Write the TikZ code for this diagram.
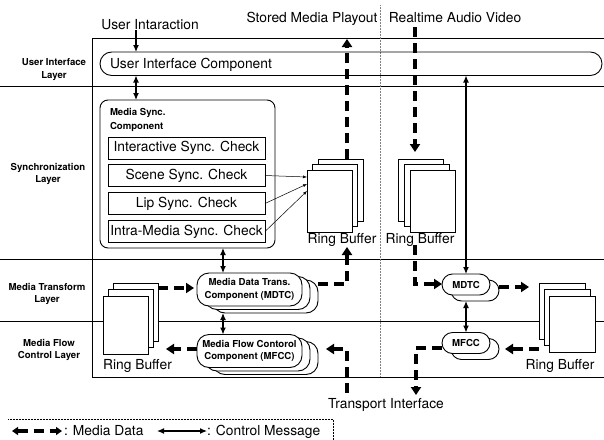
\documentclass[tikz,border=0pt]{standalone}
\usepackage{fontspec}
\setmainfont{TeX Gyre Heros}
\usetikzlibrary{arrows.meta}
\begin{document}
\begin{tikzpicture}[x=1pt,y=-1pt,
  every node/.style={inner sep=0pt, outer sep=0pt},
  big/.style={font=\fontsize{13.8}{15}\selectfont},
  lbl/.style={font=\fontsize{9.6}{12.6}\selectfont\bfseries, align=center},
  frm/.style={line width=0.9pt},
  chk/.style={draw, line width=0.9pt, minimum width=157pt, minimum height=22pt, big},
  page/.style={draw, fill=white, line width=0.7pt, anchor=north west},
  compL/.style={draw, fill=white, line width=0.9pt, rounded corners=12pt, minimum width=105pt, minimum height=33pt, lbl},
  compR/.style={draw, fill=white, line width=0.9pt, rounded corners=10.5pt, minimum width=48pt, minimum height=21pt, lbl},
  ctrl/.style={line width=1.2pt, {Latex[length=7pt,width=6pt]}-{Latex[length=7pt,width=6pt]}},
  ctrlone/.style={line width=1.2pt, -{Latex[length=7pt,width=6pt]}},
  thin/.style={line width=0.5pt, -{Latex[length=4pt,width=3pt]}},
  md/.style={line width=4pt, dash pattern=on 10pt off 6pt, line join=miter, -{Triangle[length=8pt,width=10pt]}},
  mdd/.style={line width=4pt, dash pattern=on 10pt off 6pt, {Triangle[length=6pt,width=8pt]}-{Triangle[length=6pt,width=8pt]}}
]
\useasboundingbox (0,0) rectangle (604,439);

% frame and layers
\draw[frm] (610,38) -- (92,38) -- (92,377) -- (610,377);
\draw[frm] (0,86) -- (604,86);
\draw[frm] (0,259) -- (604,259);
\draw[frm] (0,321) -- (604,321);
\draw[densely dotted, line width=0.5pt, gray] (380,5) -- (380,377);

% layer labels
\node[lbl] (l1) at (54,69.7) {User Interface\\Layer};
\node[lbl] (l2) at (48,173.8) {Synchronization\\Layer};
\node[lbl] (l3) at (47,294) {Media Transform\\Layer};
\node[lbl] (l4) at (49,349.8) {Media Flow\\Control Layer};

% top texts
\node[big, anchor=base] (uitxt) at (150,29) {User Intaraction};
\node[big, anchor=base] (stxt) at (312,22.5) {Stored Media Playout};
\node[big, anchor=base] (rtxt) at (455,22.5) {Realtime Audio Video};
\node[big, anchor=base] (ttxt) at (386,408) {Transport Interface};

% UI component
\node[draw, line width=0.9pt, rounded corners=11.7pt, minimum width=502pt, minimum height=23.5pt] (ui) at (351,63.75) {};
\node[big, anchor=base west] (uilabel) at (110,68.3) {User Interface Component};

% media sync component
\node[draw, line width=0.9pt, rounded corners=8pt, minimum width=175pt, minimum height=148pt] (ms) at (187.5,174) {};
\node[font=\fontsize{9.6}{13.3}\selectfont\bfseries, align=left, anchor=north west] (mstitle) at (110,108.7) {Media Sync.\\Component};
\node[chk] (c1) at (186.5,148) {Interactive Sync. Check};
\node[chk] (c2) at (186.5,175.5) {Scene Sync. Check};
\node[chk] (c3) at (186.5,203.5) {Lip Sync. Check};
\node[chk] (c4) at (186.5,231.5) {Intra-Media Sync. Check};

% ring buffers
\foreach \n/\x/\y in {b/318/159, m/312.5/164.5, f/307/170}
  \node[page, minimum width=45pt, minimum height=62pt] (r1\n) at (\x,\y) {};
\foreach \n/\x/\y in {b/398/159, m/404/164.5, f/410/170}
  \node[page, minimum width=45pt, minimum height=62pt] (r2\n) at (\x,\y) {};
\foreach \n/\x/\y in {b/539/283, m/544/289.5, f/549/296}
  \node[page, minimum width=46pt, minimum height=56pt] (rr\n) at (\x,\y) {};
\foreach \n/\x/\y in {b/113/283, m/108/289.5, f/103/296}
  \node[page, minimum width=45pt, minimum height=58pt] (rl\n) at (\x,\y) {};
\node[big, anchor=base] (r1t) at (342,243) {Ring Buffer};
\node[big, anchor=base] (r2t) at (420,243) {Ring Buffer};
\node[big, anchor=base] (rrt) at (560,369) {Ring Buffer};
\node[big, anchor=base] (rlt) at (137.5,369) {Ring Buffer};

% left MDTC / MFCC
\node[compL] (mdtcL3) at (265.5,296.5) {};
\node[compL] (mdtcL2) at (257.5,293) {};
\node[compL] (mdtcL) at (249.5,289.5) {Media Data Trans.\\Component (MDTC)};
\node[compL] (mfccL3) at (265.5,358) {};
\node[compL] (mfccL2) at (257.5,354.5) {};
\node[compL] (mfccL) at (249.5,351) {Media Flow Contorol\\Component (MFCC)};

% right MDTC / MFCC
\node[compR] (mdtcR2) at (475,290.5) {};
\node[compR] (mdtcR) at (466,284.5) {MDTC};
\node[compR] (mfccR2) at (475,349) {};
\node[compR] (mfccR) at (466,343) {MFCC};

% sync check -> ring buffer
\draw[thin] (c2.east) -- ([yshift=-7pt]r1f.north west);
\draw[thin] (c3.east) -- ([yshift=-14pt]r1f.north west);
\draw[thin] (c4.east) -- ([yshift=-21pt]r1f.north west);

% control messages
\coordinate (xa) at (136,0);
\coordinate (xb) at (223,0);
\draw[ctrlone] (136,30) -- (ui.north -| xa);
\draw[ctrl] (ui.south -| xa) -- (ms.north -| xa);
\draw[ctrl] (ms.south -| xb) -- (mdtcL.north -| xb);
\draw[ctrl] (mdtcL3.south -| xb) -- (mfccL.north -| xb);
\draw[ctrl] (ui.south -| mdtcR) -- (mdtcR.north);
\draw[ctrl] (mdtcR2.south -| mdtcR) -- (mfccR.north);

% media data
\coordinate (playtop) at (347,39);
\coordinate (rttop) at (415,27);
\coordinate (trS) at (347,393);
\coordinate (trR) at (416,395);
\draw[md] (r1b.north -| playtop) -- (playtop);
\draw[md] (rttop) -- (415,152);
\draw[md] (415,245) -- (415,284) -- (mdtcR.west |- 0,284);
\draw[md] (mdtcR2.east |- 0,287) -- (529,287);
\draw[md] (rrb.west |- 0,349) -- (505,349);
\draw[md] (mfccR.west |- 0,348) -- (416,348) -- (trR);
\draw[md] (trS) -- (347,349) -- (326,349);
\draw[md] (mdtcL3.east |- 0,284) -- (347,284) -- (347,247);
\draw[md] (rlb.east |- 0,288) -- (194,288);
\draw[md] (mfccL.west |- 0,349) -- (166,349);

% legend
\draw[densely dotted, line width=0.5pt] (8,419) -- (333,419) -- (333,445);
\draw[mdd] (12,431) -- (62,431);
\node[big, anchor=base west] (leg1) at (64,435) {: Media Data};
\draw[ctrl] (157,431) -- (207,431);
\node[big, anchor=base west] (leg2) at (207,435) {: Control Message};
\end{tikzpicture}
\end{document}
